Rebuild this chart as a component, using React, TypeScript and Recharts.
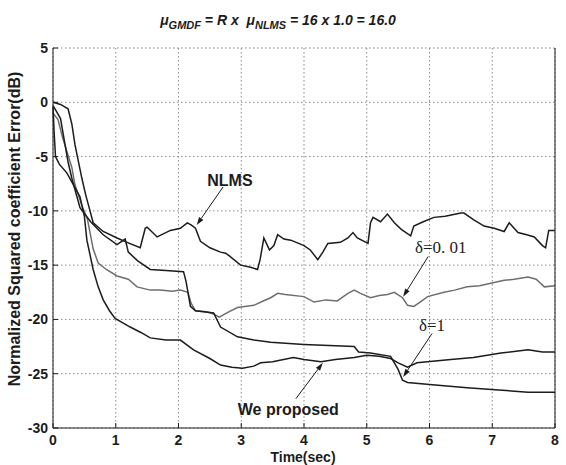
import React from 'react'
import { LineChart, Line, XAxis, YAxis, CartesianGrid, ReferenceLine, ReferenceDot } from 'recharts'

type Pt = { t: number; db: number }
const pts = (rows: number[][]): Pt[] => rows.map(([t, db]) => ({ t, db }))

const timeTicks = [0, 1, 2, 3, 4, 5, 6, 7, 8]
const dbTicks = [-30, -25, -20, -15, -10, -5, 0, 5]

// NLMS
const nlms = pts([
  [0, 0], [0.12, -0.2], [0.24, -0.6], [0.3, -2], [0.35, -3.9], [0.46, -7], [0.52, -8.5],
  [0.59, -10], [0.64, -11.1], [0.8, -11.9], [1.02, -12.5], [1.18, -12.9], [1.39, -13.4],
  [1.47, -11.6], [1.5, -11.5], [1.66, -12.4], [1.87, -11.8], [2.03, -11.6], [2.14, -11.1],
  [2.2, -11.3], [2.27, -11.6], [2.35, -12.8], [2.5, -13.4], [2.67, -13.8], [2.75, -13.9],
  [2.8, -14.1], [2.99, -15], [3.15, -15.2], [3.26, -15.4], [3.3, -14.5], [3.36, -12.5],
  [3.45, -13.6], [3.52, -13.2], [3.58, -12.2], [3.68, -12.6], [3.79, -12.7], [4, -13.2],
  [4.1, -13.6], [4.22, -14.5], [4.3, -13.8], [4.38, -13], [4.58, -12.9], [4.7, -12.5],
  [4.78, -12], [4.85, -12.5], [5.02, -13], [5.06, -11.1], [5.1, -10.6], [5.22, -11],
  [5.33, -10.3], [5.44, -11.1], [5.55, -11.7], [5.7, -12.3], [5.75, -11.4], [5.9, -11],
  [6.07, -10.6], [6.25, -10.5], [6.5, -10.2], [6.55, -10.2], [6.7, -10.8], [6.87, -11.4],
  [7.03, -11.6], [7.19, -11.9], [7.27, -11.1], [7.41, -12], [7.55, -12.2], [7.67, -12.4],
  [7.8, -13.2], [7.85, -13.4], [7.9, -11.8], [8, -11.8],
])

// delta = 0.01 (grey)
const delta001 = pts([
  [0, -1], [0.08, -1.6], [0.15, -3.2], [0.22, -4.5], [0.3, -6], [0.35, -7.6], [0.46, -9.5],
  [0.55, -10.8], [0.64, -13.5], [0.72, -14.8], [0.85, -15.4], [1.02, -16], [1.2, -16.3],
  [1.34, -17], [1.55, -17.3], [1.71, -17.3], [1.9, -17.4], [2.03, -17.3], [2.15, -17.5],
  [2.2, -18.5], [2.27, -19.2], [2.45, -19.3], [2.56, -19.5], [2.65, -19.8], [2.8, -19.3],
  [2.94, -18.9], [3.2, -18.7], [3.35, -18.3], [3.47, -18], [3.58, -17.6], [3.7, -17.7],
  [4, -17.9], [4.16, -18.4], [4.35, -18.2], [4.53, -18.3], [4.7, -17.6], [4.8, -17.3],
  [4.9, -17.6], [5.06, -18], [5.2, -17.8], [5.33, -17.7], [5.44, -17.5], [5.57, -18],
  [5.65, -18.7], [5.75, -18.8], [5.85, -18.4], [5.97, -17.9], [6.23, -17.5], [6.4, -17.3],
  [6.6, -17], [6.8, -16.9], [7.03, -16.6], [7.19, -16.4], [7.35, -16.3], [7.57, -16.1],
  [7.7, -16.3], [7.83, -17], [8, -16.9],
])

// delta = 1
const delta1 = pts([
  [0, -0.3], [0.05, -0.8], [0.12, -1.5], [0.18, -3.5], [0.24, -5.5], [0.3, -7], [0.43, -9.7],
  [0.6, -11], [0.8, -12.2], [1.02, -13.1], [1.15, -12.6], [1.2, -13.8], [1.35, -14.6],
  [1.55, -15.4], [1.8, -15.5], [2.08, -15.6], [2.12, -16.5], [2.19, -18.8], [2.27, -19.2],
  [2.56, -19.4], [2.67, -20.7], [2.94, -21.6], [3.2, -21.9], [3.47, -22.1], [4, -22.3],
  [4.4, -22.4], [4.8, -22.5], [4.87, -23], [5.06, -23.1], [5.38, -23.4], [5.5, -24.6],
  [5.57, -25.6], [5.65, -25.8], [6, -26], [6.6, -26.3], [7.1, -26.5], [7.57, -26.7], [8, -26.7],
])

// We proposed
const proposed = pts([
  [0, -0.4], [0.02, -3], [0.04, -5], [0.1, -5.7], [0.22, -6.5], [0.43, -8.7], [0.5, -10.5],
  [0.54, -12.7], [0.64, -15.4], [0.72, -17], [0.8, -18.2], [0.9, -19.2], [0.99, -19.9],
  [1.23, -20.7], [1.4, -21.2], [1.55, -21.7], [1.8, -21.9], [2.03, -21.9], [2.24, -22.8],
  [2.5, -23.6], [2.67, -24.2], [2.85, -24.4], [3.02, -24.5], [3.2, -24.3], [3.31, -24],
  [3.5, -23.9], [3.83, -23.5], [4, -23.7], [4.27, -23.9], [4.5, -23.7], [4.8, -23.5],
  [5, -23.3], [5.2, -23.4], [5.38, -23.6], [5.5, -24], [5.65, -24.4], [5.8, -24],
  [6.34, -23.7], [6.7, -23.5], [7.14, -23.1], [7.57, -22.8], [7.8, -23], [8, -23],
])

const notes = [
  { text: 'NLMS', t: 2.82, db: -7.2, serif: false },
  { text: 'δ=0. 01', t: 6.18, db: -13.4, serif: true },
  { text: 'δ=1', t: 6.04, db: -20.6, serif: true },
  { text: 'We proposed', t: 3.75, db: -28.3, serif: false },
]

const arrows = [
  { t1: 2.71, db1: -7.8, t2: 2.29, db2: -11.3 },
  { t1: 5.98, db1: -14.2, t2: 5.58, db2: -17.9 },
  { t1: 6.04, db1: -21.3, t2: 5.58, db2: -25.3 },
  { t1: 3.87, db1: -27.3, t2: 4.3, db2: -24 },
]

const SANS = '"Liberation Sans", Arial, sans-serif'
const SERIF = '"Liberation Serif", "Times New Roman", serif'
const INK = '#1c1c1c'

function Arrow(props: any) {
  const { x1, y1, x2, y2 } = props
  const dx = x2 - x1
  const dy = y2 - y1
  const len = Math.hypot(dx, dy) || 1
  const ux = dx / len
  const uy = dy / len
  const bx = x2 - ux * 8
  const by = y2 - uy * 8
  const head = `${x2},${y2} ${bx - uy * 2.6},${by + ux * 2.6} ${bx + uy * 2.6},${by - ux * 2.6}`
  return (
    <g>
      <line x1={x1} y1={y1} x2={bx} y2={by} stroke={INK} strokeWidth={1} />
      <polygon points={head} fill={INK} />
    </g>
  )
}

const tickStyle = { fontSize: 14, fontWeight: 700, fill: INK, fontFamily: SANS }

export default function App() {
  return (
    <div style={{ position: 'relative', width: 566, height: 465, background: '#fff', overflow: 'hidden' }}>
      <style>{'body{margin:0}'}</style>
      <div
        style={{
          position: 'absolute', left: 0, width: 556, top: 12, textAlign: 'center',
          fontFamily: SANS, fontStyle: 'italic', fontWeight: 700, fontSize: 14, color: INK,
          whiteSpace: 'pre',
        }}
      >
        μ<sub style={{ fontSize: 11 }}>GMDF</sub>{' = R x  μ'}<sub style={{ fontSize: 11 }}>NLMS</sub>{' = 16 x 1.0 = 16.0'}
      </div>
      <div
        style={{
          position: 'absolute', left: 15, top: 229, transform: 'translate(-50%, -50%) rotate(-90deg)',
          fontFamily: SANS, fontWeight: 700, fontSize: 16, color: INK, whiteSpace: 'nowrap',
        }}
      >
        Normalized Squared coefficient Error(dB)
      </div>
      <div
        style={{
          position: 'absolute', left: 303, top: 450, transform: 'translateX(-50%)',
          fontFamily: SANS, fontWeight: 700, fontSize: 14, lineHeight: '14px', color: INK, whiteSpace: 'nowrap',
        }}
      >
        Time(sec)
      </div>
      <LineChart width={566} height={465} margin={{ top: 48, right: 10, bottom: 0, left: 0 }}>
        <CartesianGrid stroke="#8a8a8a" strokeDasharray="1.5 2.5" />
        <XAxis
          dataKey="t" type="number" domain={[0, 8]} ticks={timeTicks} height={37}
          tickSize={-5} tickMargin={12} stroke={INK} tick={tickStyle} interval={0}
        />
        <XAxis
          xAxisId="top" orientation="top" dataKey="t" type="number" domain={[0, 8]} ticks={timeTicks}
          height={0} tickSize={-5} stroke={INK} tick={() => <g />}
        />
        <YAxis
          type="number" domain={[-30, 5]} ticks={dbTicks} width={53}
          tickSize={-5} tickMargin={10} stroke={INK} tick={tickStyle} interval={0}
        />
        <YAxis
          yAxisId="right" orientation="right" type="number" domain={[-30, 5]} ticks={dbTicks}
          width={1} tickSize={-5} stroke={INK} tick={() => <g />}
        />
        <Line data={delta001} dataKey="db" stroke="#6e6e6e" strokeWidth={1.5} dot={false} isAnimationActive={false} />
        <Line data={delta1} dataKey="db" stroke={INK} strokeWidth={1.5} dot={false} isAnimationActive={false} />
        <Line data={proposed} dataKey="db" stroke={INK} strokeWidth={1.5} dot={false} isAnimationActive={false} />
        <Line data={nlms} dataKey="db" stroke={INK} strokeWidth={1.5} dot={false} isAnimationActive={false} />
        {arrows.map((a, i) => (
          <ReferenceLine
            key={'a' + i}
            segment={[{ x: a.t1, y: a.db1 }, { x: a.t2, y: a.db2 }]}
            shape={(p: any) => <Arrow {...p} />}
          />
        ))}
        {notes.map((n) => (
          <ReferenceDot
            key={n.text}
            x={n.t}
            y={n.db}
            r={0}
            shape={(p: any) => (
              <text
                x={p.cx}
                y={p.cy}
                textAnchor="middle"
                dominantBaseline="central"
                fontFamily={n.serif ? SERIF : SANS}
                fontWeight={n.serif ? 400 : 700}
                fontSize={n.serif ? 17 : 16}
                fill={INK}
              >
                {n.text}
              </text>
            )}
          />
        ))}
      </LineChart>
    </div>
  )
}
